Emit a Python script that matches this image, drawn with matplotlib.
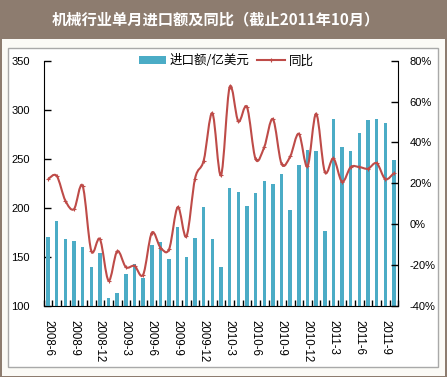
import matplotlib
matplotlib.use("Agg")
import matplotlib.pyplot as plt
import numpy as np
from matplotlib.lines import Line2D
from matplotlib.patches import Patch, PathPatch, Rectangle
from matplotlib.path import Path

plt.rcParams["font.family"] = ["Liberation Sans", "Noto Sans CJK SC", "DejaVu Sans"]

# monthly imports (100m USD) and yoy growth (%), 2008-6 .. 2011-10
imports = [170, 186, 168, 166, 160, 139, 154, 108, 113, 132, 143, 128,
           162, 165, 148, 180, 150, 169, 201, 168, 139, 220, 216, 202,
           215, 227, 224, 234, 198, 244, 259, 258, 176, 291, 262, 258,
           276, 289, 291, 286, 249]
yoy = [22.0, 23.6, 11.5, 7.3, 18.7, -13.1, -7.4, -27.7, -13.3, -21.1, -20.5, -24.8,
       -4.3, -11.5, -12.3, 8.3, -6.1, 22.3, 31.1, 54.3, 23.9, 67.1, 50.3, 57.3,
       31.8, 37.7, 51.4, 29.5, 33.1, 44.2, 28.2, 54.0, 25.6, 32.1, 20.7, 27.9,
       27.9, 27.1, 29.8, 22.0, 25.0]
tick_labels = ["2008-6", "2008-9", "2008-12", "2009-3", "2009-6", "2009-9", "2009-12",
               "2010-3", "2010-6", "2010-9", "2010-12", "2011-3", "2011-6", "2011-9"]

W, H = 447, 377
BROWN = "#8D7C6F"
TEAL = "#4BACC6"
RED = "#BE4B48"

fig = plt.figure(figsize=(W / 100, H / 100), dpi=100, facecolor=BROWN)


def px(x0, y0, x1, y1):
    # pixel box -> figure fraction (left, bottom, width, height)
    return x0 / W, 1 - y1 / H, (x1 - x0) / W, (y1 - y0) / H


l, b, w, h = px(2, 39, 444.5, 375.5)
fig.patches.append(Rectangle((l, b), w, h, transform=fig.transFigure,
                             facecolor="#FBFAF6", edgecolor="none", zorder=-10))
l, b, w, h = px(7.5, 47.5, 437.5, 367)
fig.patches.append(Rectangle((l, b), w, h, transform=fig.transFigure,
                             facecolor="white", edgecolor="#A9A9A9", lw=1, zorder=-9))
fig.text(216 / W, 1 - 19.5 / H, "机械行业单月进口额及同比（截止2011年10月）",
         color="white", fontsize=11, fontweight="bold", ha="center", va="center",
         family=["Noto Sans CJK SC", "DejaVu Sans"])

ax = fig.add_axes(px(43.7, 60.7, 398.3, 305.7))
ax.patch.set_alpha(0)
n = len(imports)
x = np.arange(n)
ax.bar(x, imports, width=0.4, color=TEAL, zorder=2)
ax.set_xlim(-0.5, n - 0.5)
ax.set_ylim(100, 350)
ax.set_yticks(range(100, 351, 50))
ax.set_xticks(x[::3])
ax.set_xticklabels(tick_labels, rotation=-90, fontsize=8.3)
ax.set_xticks(np.arange(n + 1) - 0.5, minor=True)
ax.tick_params(axis="x", which="major", length=0, pad=10)
ax.tick_params(axis="x", which="minor", direction="in", length=4, width=1)
ax.tick_params(axis="y", direction="in", length=5, width=1, labelsize=8, pad=10)
for s in ("top", "right"):
    ax.spines[s].set_visible(False)

ax2 = ax.twinx()
ax2.set_ylim(-40, 80)
ax2.set_yticks(range(-40, 81, 20))
ax2.set_yticklabels([f"{v}%" for v in range(-40, 81, 20)])
ax2.tick_params(axis="y", direction="in", length=5, width=1, labelsize=8, pad=8)
for s in ("top", "left", "bottom"):
    ax2.spines[s].set_visible(False)

# smoothed line like the spreadsheet's "smooth line" option
pts = np.column_stack([x, yoy]).astype(float)
ext = np.vstack([pts[0], pts, pts[-1]])
verts = [pts[0]]
codes = [Path.MOVETO]
for i in range(n - 1):
    p0, p1, p2, p3 = ext[i], ext[i + 1], ext[i + 2], ext[i + 3]
    verts += [p1 + (p2 - p0) / 6, p2 - (p3 - p1) / 6, p2]
    codes += [Path.CURVE4] * 3
ax2.add_patch(PathPatch(Path(verts, codes), fill=False, edgecolor=RED, lw=1.5, zorder=3))
ax2.plot(x, yoy, ls="none", marker="+", ms=3, mew=0.8, color=RED, zorder=4)

handles = [Patch(facecolor=TEAL, edgecolor="none"),
           Line2D([], [], color=RED, lw=1.5, marker="+", ms=3, mew=0.8)]
fig.legend(handles, ["进口额/亿美元", "同比"], loc="center", ncol=2, frameon=False,
           bbox_to_anchor=(226 / W, 1 - 61 / H), handlelength=2.2,
           handleheight=0.6, columnspacing=0.6, handletextpad=0.3,
           prop={"family": ["Noto Sans CJK SC", "DejaVu Sans"], "size": 9})

fig.savefig("out.png", dpi=100, facecolor=BROWN)
